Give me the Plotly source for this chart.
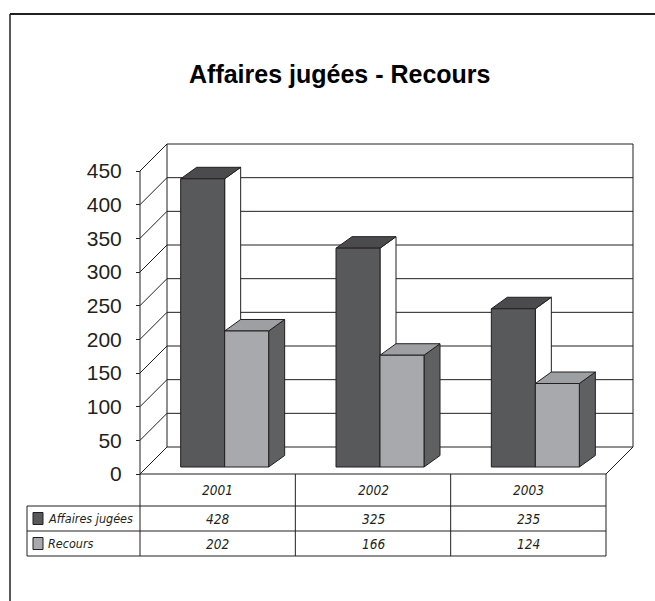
import plotly.graph_objects as go

# ---------------- data ----------------
categories = ["2001", "2002", "2003"]
series_names = ["Affaires jugées", "Recours"]
affaires = [428, 325, 235]
recours = [202, 166, 124]
y_ticks = [0, 50, 100, 150, 200, 250, 300, 350, 400, 450]

# ---------------- geometry (pixels) ----------------
W, H = 655, 601
PL, PR, PT, PB = 136, 638, 140, 478          # plot area
FX0, FX1, FY0 = 140, 606, 474                 # front plane left/right, baseline
UX = (FX1 - FX0) / len(categories)            # px per category unit
UY = 303 / 450                                # px per value unit

def ux(p): return p / UX
def uy(p): return p / UY

x_range = [-0.5 - ux(FX0 - PL), -0.5 + ux(PR - FX0)]
y_range = [-uy(PB - FY0), uy(FY0 - PT)]

def px2paper_x(px): return (px - PL) / (PR - PL)
def px2paper_y(py): return (PB - py) / (PB - PT)

WDX, WDY = ux(27), uy(27)        # wall depth
BW = ux(44)                      # bar width
BSX, BSY = ux(7), uy(7)          # bar shift from front plane
BDX, BDY = ux(16), uy(11.5)      # bar depth

INK = "#231f20"
DARK = dict(front="#58595b", top="#4b4b4d", side="#ffffff")
LIGHT = dict(front="#a7a9ac", top="#9d9fa2", side="#5f6062")
styles = [DARK, LIGHT]
values = [affaires, recours]

fig = go.Figure()

def poly(xs, ys, color):
    fig.add_trace(go.Scatter(x=xs, y=ys, fill="toself", fillcolor=color, mode="lines",
                             line=dict(color=INK, width=1), hoverinfo="skip", showlegend=False))

for i in range(len(categories)):
    for s in range(2):
        v = values[s][i]
        st = styles[s]
        x0 = i - BW + s * BW + BSX
        x1 = x0 + BW
        yb, yt = BSY, v + BSY
        poly([x1, x1, x1 + BDX, x1 + BDX, x1], [yb, yt, yt + BDY, yb + BDY, yb], st["side"])
        poly([x0, x1, x1 + BDX, x0 + BDX, x0], [yt, yt, yt + BDY, yt + BDY, yt], st["top"])
        poly([x0, x1, x1, x0, x0], [yb, yb, yt, yt, yb], st["front"])

shapes = []
def dline(x0, y0, x1, y1, w=1):
    shapes.append(dict(type="line", xref="x", yref="y", x0=x0, y0=y0, x1=x1, y1=y1,
                       line=dict(color=INK, width=w), layer="below"))

xl, xr = -0.5, len(categories) - 0.5
top = y_ticks[-1]
for v in y_ticks:
    dline(xl + WDX, v + WDY, xr + WDX, v + WDY)
    dline(xl, v, xl + WDX, v + WDY)
dline(xl + WDX, WDY, xl + WDX, top + WDY)
dline(xr + WDX, WDY, xr + WDX, top + WDY)
dline(xl, 0, xl, top)
dline(xl, 0, xr, 0)
dline(xr, 0, xr + WDX, WDY)

def pline(x0, y0, x1, y1, w=1):
    shapes.append(dict(type="line", xref="paper", yref="paper",
                       x0=px2paper_x(x0), y0=px2paper_y(y0),
                       x1=px2paper_x(x1), y1=px2paper_y(y1),
                       line=dict(color=INK, width=w)))

# data table
ROW = [474, 506, 531, 556]
col_px = [FX0 + k * UX for k in range(len(categories) + 1)]
for cx in col_px:
    pline(cx, ROW[0], cx, ROW[3])
for ry in ROW[1:]:
    pline(27, ry, FX1, ry)
pline(27, ROW[1], 27, ROW[3])

# outer frame
pline(10, 14, W + 5, 14, 2)
pline(10, 14, 10, H + 5, 1.5)

annotations = []
tfont = dict(family="Liberation Sans Narrow, DejaVu Sans Condensed, Liberation Sans",
             size=13.5, color=INK, style="italic")
lfont = dict(tfont, size=12.5)
for i, c in enumerate(categories):
    annotations.append(dict(x=i, xref="x", y=px2paper_y((ROW[0] + ROW[1]) / 2), yref="paper",
                            text=c, showarrow=False, font=tfont, yanchor="middle"))
    for r in range(2):
        annotations.append(dict(x=i, xref="x", y=px2paper_y((ROW[r + 1] + ROW[r + 2]) / 2),
                                yref="paper", text=str(values[r][i]), showarrow=False,
                                font=tfont, yanchor="middle"))
for r in range(2):
    cy = (ROW[r + 1] + ROW[r + 2]) / 2
    shapes.append(dict(type="rect", xref="paper", yref="paper",
                       x0=px2paper_x(33), x1=px2paper_x(43),
                       y0=px2paper_y(cy - 6), y1=px2paper_y(cy + 6),
                       fillcolor=styles[r]["front"], line=dict(color=INK, width=1)))
    annotations.append(dict(x=px2paper_x(46), xref="paper", y=px2paper_y(cy), yref="paper",
                            text=series_names[r], showarrow=False, xanchor="left",
                            yanchor="middle", font=lfont))

annotations.append(dict(x=px2paper_x(340), xref="paper", y=px2paper_y(74), yref="paper",
                        text="<b>Affaires jugées - Recours</b>", showarrow=False,
                        yanchor="middle",
                        font=dict(family="Liberation Sans", size=25, color="#000000")))

fig.update_layout(
    width=W, height=H,
    margin=dict(l=PL, r=W - PR, t=PT, b=H - PB, pad=0),
    paper_bgcolor="white", plot_bgcolor="white",
    xaxis=dict(range=x_range, visible=False, fixedrange=True),
    yaxis=dict(range=y_range, anchor="free", position=px2paper_x(FX0),
               tickvals=y_ticks, ticktext=[str(t) for t in y_ticks],
               ticks="outside", ticklen=4, tickcolor=INK, showgrid=False,
               zeroline=False, showline=False, ticklabelstandoff=10, fixedrange=True,
               tickfont=dict(family="Liberation Sans", size=21, color=INK)),
    shapes=shapes, annotations=annotations, showlegend=False,
)
fig.write_html("out.html", config={"displayModeBar": False},
               post_script="document.body.style.margin='0';")
